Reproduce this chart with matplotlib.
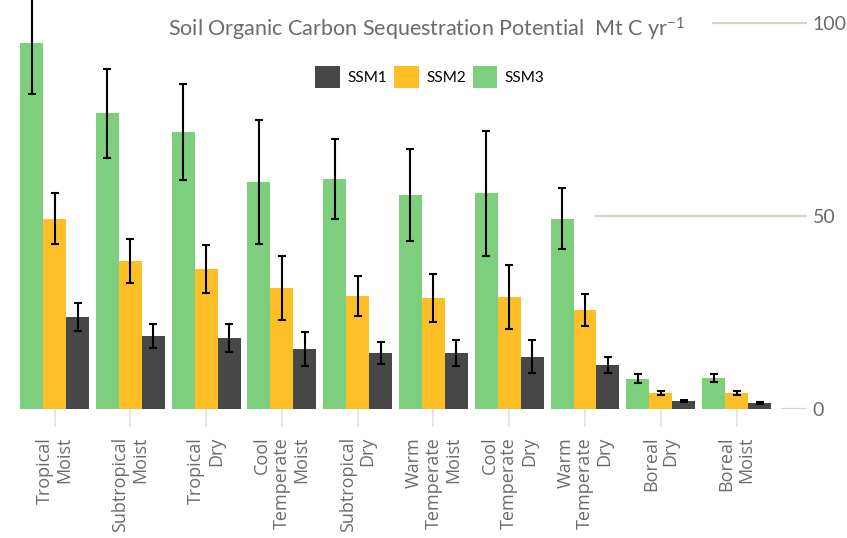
import numpy as np
import matplotlib
matplotlib.use('Agg')
import matplotlib.pyplot as plt

plt.rcParams['font.family'] = ['Lato', 'DejaVu Sans']
plt.rcParams['mathtext.default'] = 'regular'

categories = ['Tropical\nMoist', 'Subtropical\nMoist', 'Tropical\nDry',
              'Cool\nTemperate\nMoist', 'Subtropical\nDry', 'Warm\nTemperate\nMoist',
              'Cool\nTemperate\nDry', 'Warm\nTemperate\nDry', 'Boreal\nDry', 'Boreal\nMoist']

ssm3 = [94.8, 76.6, 71.7, 58.8, 59.5, 55.4, 55.9, 49.2, 7.8, 8.0]
ssm3_err = [13.2, 11.5, 12.4, 16.0, 10.4, 11.9, 16.2, 7.9, 1.15, 1.05]
ssm2 = [49.2, 38.3, 36.2, 31.3, 29.3, 28.7, 29.0, 25.6, 4.1, 4.1]
ssm2_err = [6.6, 5.8, 6.25, 8.25, 5.2, 6.2, 8.2, 4.15, 0.6, 0.6]
ssm1 = [23.8, 18.9, 18.4, 15.5, 14.5, 14.5, 13.5, 11.4, 2.1, 1.55]
ssm1_err = [3.6, 3.05, 3.55, 4.4, 2.85, 3.45, 4.3, 2.1, 0.35, 0.25]

c_green = '#7dce7d'
c_yellow = '#febf26'
c_dark = '#474747'
grey = '#6b6b6b'

fig = plt.figure(figsize=(8.47, 5.38), dpi=100)
ax = fig.add_axes([0.0, 0.2398, 0.9528, 0.7602])

x = np.arange(len(categories))
w = 0.303
ekw = dict(ecolor='black', elinewidth=1.5, capsize=3, capthick=1.5)
b3 = ax.bar(x - w, ssm3, w, yerr=ssm3_err, color=c_green, label='SSM3', error_kw=ekw)
b2 = ax.bar(x, ssm2, w, yerr=ssm2_err, color=c_yellow, label='SSM2', error_kw=ekw)
b1 = ax.bar(x + w, ssm1, w, yerr=ssm1_err, color=c_dark, label='SSM1', error_kw=ekw)

# partial gridlines as in the reference
ax.axhline(100, xmin=0.883, xmax=1, color='#dcd2c6', lw=1.6, zorder=0)
ax.axhline(50, xmin=0.739, xmax=1, color='#dcd2c6', lw=1.6, zorder=0)
ax.axhline(0, xmin=0.969, xmax=1, color='#dcd2c6', lw=1.6, zorder=0)

ax.set_xlim(-0.72, 9.93)
ax.set_ylim(0, 105.9)
ax.yaxis.tick_right()
ax.set_yticks([0, 50, 100])
ax.tick_params(axis='y', length=0, pad=4, labelsize=14, labelcolor=grey)
ax.set_xticks(x)
ax.set_xticklabels(categories, rotation=90, va='top', ha='center',
                   multialignment='right', fontsize=13, color=grey, linespacing=1.12,
                   family=['Open Sans', 'DejaVu Sans'])
ax.tick_params(axis='x', length=13, color='#e2e2e2', width=1.2, pad=7)
for s in ax.spines.values():
    s.set_visible(False)

fig.text(0.503, 0.945, 'Soil Organic Carbon Sequestration Potential  Mt C yr$^{-1}$',
         ha='center', va='center', fontsize=15.5, color=grey)

ax.legend(handles=[b1, b2, b3], loc='center', bbox_to_anchor=(430 / 807, 1 - 77 / 409),
          ncol=3, frameon=False, fontsize=11, handlelength=1.6, handleheight=1.9,
          handletextpad=0.5, columnspacing=0.45)

fig.savefig('out.png', dpi=100)
